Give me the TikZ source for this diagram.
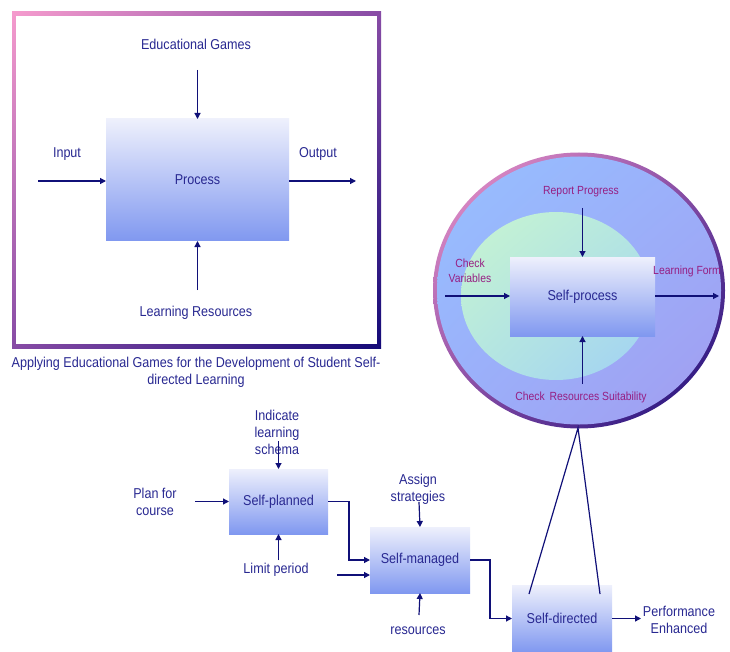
\documentclass[tikz,border=0pt]{standalone}
\usepackage{fontspec}
\setmainfont{Liberation Sans}[FakeStretch=0.88]
\usetikzlibrary{arrows.meta,shadings}
\definecolor{txt}{RGB}{40,40,145}
\definecolor{arr}{RGB}{16,16,120}
\definecolor{mag}{RGB}{150,30,130}
\definecolor{boxtop}{RGB}{238,240,252}
\definecolor{boxbot}{RGB}{128,152,240}
\definecolor{pinkc}{RGB}{245,155,205}
\definecolor{midp}{RGB}{135,75,165}
\definecolor{navyc}{RGB}{20,10,120}
\definecolor{blueA}{RGB}{150,192,255}
\definecolor{blueB}{RGB}{155,175,250}
\definecolor{blueC}{RGB}{162,156,240}
\definecolor{greenA}{RGB}{200,245,208}
\definecolor{greenB}{RGB}{180,230,225}
\definecolor{greenC}{RGB}{160,208,245}
\begin{document}
\begin{tikzpicture}[x=1pt,y=-1pt,
  lbl/.style={text=txt, font=\fontsize{14.3}{17}\selectfont, align=center, inner sep=0pt},
  mlbl/.style={text=mag, font=\fontsize{11.8}{14.5}\selectfont, align=center, inner sep=0pt},
  gbox/.style={top color=boxtop, bottom color=boxbot, draw=none, text=txt,
    font=\fontsize{14.3}{17}\selectfont, inner sep=0pt, outer sep=0pt},
  arrow/.style={draw=arr, line width=1.2pt, -{Triangle[length=6pt,width=6pt]}},
  link/.style={draw=arr, line width=1.2pt}
]
\useasboundingbox (0,0) rectangle (730,652);
% ---------- first frame ----------
\shade[upper left=pinkc, upper right=midp, lower left=midp, lower right=navyc]
  (12,12) rectangle (381,348);
\fill[white] (16,16) rectangle (377,344);
\node[gbox, minimum width=183pt, minimum height=122pt] (proc) at (197.5,180) {Process};
\node[lbl] (eg) at (196,44) {Educational Games};
\node[lbl] (lr) at (196,313) {Learning Resources};
\node[lbl] (inp) at (67,154) {Input};
\node[lbl] (outp) at (318,154) {Output};
\coordinate (egA) at (197.5,70);
\coordinate (lrA) at (197.5,290);
\coordinate (inA) at (38,181);
\coordinate (outA) at (356,181);
\draw[arrow] (egA) -- (proc.north);
\draw[arrow] (lrA) -- (proc.south);
\draw[arrow] (inA) -- (inA -| proc.west);
\draw[arrow] (outA -| proc.east) -- (outA);
\node[lbl] (cap) at (196,372) {Applying Educational Games for the Development of Student Self-\\directed Learning};
% ---------- circle ----------
\shade[upper left=pinkc, upper right=midp, lower left=midp, lower right=navyc]
  (579,290.5) ellipse [x radius=146, y radius=138];
\shade[upper left=blueA, upper right=blueB, lower left=blueB, lower right=blueC]
  (579,290.5) ellipse [x radius=142, y radius=134];
\shade[upper left=greenA, upper right=greenB, lower left=greenB, lower right=greenC]
  (556,296) ellipse [x radius=95, y radius=84];
\node[gbox, minimum width=145pt, minimum height=79pt] (sp) at (582.5,296.5) {Self-process};
\node[mlbl] (rp) at (581,192) {Report Progress};
\node[mlbl] (crs) at (581,397) {Check\, Resources Suitability};
\node[mlbl] (cv) at (470,271) {Check\\Variables};
\node[mlbl] (lf) at (687,271) {Learning Form};
\coordinate (rpA) at (582.5,208);
\coordinate (crsA) at (582.5,384);
\coordinate (cvA) at (445,296);
\coordinate (lfA) at (719,296);
\draw[arrow] (rpA) -- (sp.north);
\draw[arrow] (crsA) -- (sp.south);
\draw[arrow] (cvA) -- (cvA -| sp.west);
\draw[arrow] (lfA -| sp.east) -- (lfA);
% ---------- lower chain ----------
\node[gbox, minimum width=99pt, minimum height=65pt] (spl) at (278.5,501.5) {Self-planned};
\node[gbox, minimum width=100pt, minimum height=66pt] (sm) at (420,560) {Self-managed};
\node[gbox, minimum width=100pt, minimum height=67pt] (sd) at (562,618.5) {Self-directed};
\node[lbl] (ils) at (277,432) {Indicate\\learning\\schema};
\node[lbl] (pfc) at (155,502) {Plan for\\course};
\node[lbl] (lp) at (276,570) {Limit period};
\node[lbl] (as) at (418,489.5) {Assign\\strategies};
\node[lbl] (res) at (418,631) {resources};
\node[lbl] (pe) at (679,619.5) {Performance\\Enhanced};
\coordinate (ilsA) at (278.5,441);
\coordinate (pfcA) at (195,501.5);
\coordinate (lpA) at (278.5,560);
\coordinate (asA) at (419,502);
\coordinate (resA) at (419,615);
\coordinate (in2) at (337,575);
\coordinate (peA) at (641,618.5);
\draw[arrow] (ilsA) -- (spl.north);
\draw[arrow] (pfcA) -- (spl.west);
\draw[arrow] (lpA) -- (spl.south);
\draw[arrow] (spl.east) -- ++(21,0) |- (sm.west);
\draw[arrow] (in2) -- (in2 -| sm.west);
\draw[arrow] (asA) -- (sm.north);
\draw[arrow] (resA) -- (sm.south);
\draw[arrow] (sm.east) -- ++(20,0) |- (sd.west);
\draw[arrow] (sd.east) -- (peA);
% triangle to circle
\coordinate (apex) at (578,428);
\coordinate (tl) at (529,594);
\coordinate (tr) at (600,594);
\draw[link] (tl) -- (apex) -- (tr);
\end{tikzpicture}
\end{document}
